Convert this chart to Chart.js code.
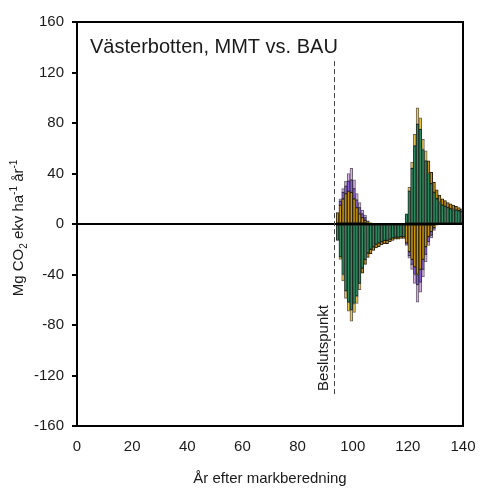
<!DOCTYPE html>
<html>
<head>
<meta charset="utf-8">
<script src="https://cdn.jsdelivr.net/npm/chart.js@4/dist/chart.umd.min.js"></script>
<style>
  html, body { margin: 0; padding: 0; background: #fff; }
  canvas { display: block; }
</style>
</head>
<body>
<canvas id="chart" width="480" height="491"></canvas>
<script>
// one bar per year, year = start of the interval
const years = [94, 95, 96, 97, 98, 99, 100, 101, 102, 103, 104, 105, 106, 107, 108, 109,
  110, 111, 112, 113, 114, 115, 116, 117, 118, 119, 120, 121, 122, 123, 124, 125, 126,
  127, 128, 129, 130, 131, 132, 133, 134, 135, 136, 137, 138, 139];

const green = [-13, -26, -40, -53, -62, -68, -63, -57, -47, -35, -28, -23, -20, -18, -16, -15,
  -14, -13, -13, -12, -11, -10.5, -10.5, -10, -10, 8, 26, 44, 62, 79, 75, 59, 50,
  40, 32, 25, 20, 17, 15, 14, 13, 12, 11.5, 11, 10.5, 10];

const goldTail = [null, null, null, null, null, null, null, null, null, -4, -4, -3.5, -3.5, -3, -3, -3,
  -2.5, -2.5, -2.5, -2, -2, -1.5, -1.5, -1.5, -1.5, null, null, null, null, null, null, null, null,
  10, 9, 8, 7, 6, 5, 4.5, 4, 4, 3.5, 3, 2.5, 2];

const goldLight = [null, -2, -5, -6, -7, -9, -7, -6, -5, null, null, null, null, null, null, null,
  null, null, null, null, null, null, null, null, null, null, 3, 5, 9, 13, 9, 8, 8,
  null, null, null, null, null, null, null, null, null, null, null, null, null];

const goldPeak = [9, 15, 20, 24, 26, 25, 20, 13, 8, 5, 3, 1.5, 1, null, null, null,
  null, null, null, null, null, null, null, null, null, -15, -22, -28, -34, -40, -36, -28, -18,
  -10, -6, -3, -1, null, null, null, null, null, null, null, null, null];

const purple = [null, 3, 5, 6, 8, 10, 8, 6, 5, 3, 2, 1, null, null, null, null,
  null, null, null, null, null, null, null, null, null, -1, -3, -4, -6, -8, -10, -8, -6,
  -4, -3, -1, null, null, null, null, null, null, null, null, null, null];

const lavender = [null, 2, 3, 4, 6, 9, 7, 5, 4, 3, 2, null, null, null, null, null,
  null, null, null, null, null, null, null, null, null, -1, -2, -4, -7, -14, -8, -6, -6,
  -3, -2, -1, null, null, null, null, null, null, null, null, null, null];

const yTicks = [-160, -120, -80, -40, 0, 40, 80, 120, 160];
const xTicks = [0, 20, 40, 60, 80, 100, 120, 140];

const decisionYear = 93.2;
const decisionFrom = 129;
const decisionTo = -137;

const FONT = "'Liberation Sans', Arial, sans-serif";
Chart.defaults.font.family = FONT;
Chart.defaults.color = "#1a1a1a";

function series(label, values, color, border) {
  return {
    label,
    data: years.map((yr, i) => ({ x: yr + 0.5, y: values[i] })),
    backgroundColor: color,
    borderColor: border,
    borderWidth: 1,
    borderSkipped: false,
    barPercentage: 1,
    categoryPercentage: 1,
  };
}

const overlay = {
  id: "overlay",
  afterDraw(chart) {
    const { ctx, chartArea: a, scales: { x, y } } = chart;
    ctx.save();

    // frame top + right
    ctx.strokeStyle = "#000";
    ctx.lineWidth = 2;
    ctx.beginPath();
    ctx.moveTo(a.left, a.top);
    ctx.lineTo(a.right, a.top);
    ctx.lineTo(a.right, a.bottom);
    ctx.stroke();

    // zero line
    const y0 = y.getPixelForValue(0);
    ctx.beginPath();
    ctx.moveTo(a.left, y0);
    ctx.lineTo(a.right, y0);
    ctx.stroke();

    // decision line
    const dx = Math.round(x.getPixelForValue(decisionYear)) + 0.5;
    ctx.strokeStyle = "#444";
    ctx.lineWidth = 1;
    ctx.setLineDash([5, 3]);
    ctx.beginPath();
    ctx.moveTo(dx, y.getPixelForValue(decisionFrom));
    ctx.lineTo(dx, y.getPixelForValue(decisionTo));
    ctx.stroke();
    ctx.setLineDash([]);

    ctx.fillStyle = "#1a1a1a";
    ctx.save();
    ctx.translate(dx - 11, y.getPixelForValue(decisionTo) - 6);
    ctx.rotate(-Math.PI / 2);
    ctx.font = `15px ${FONT}`;
    ctx.textAlign = "left";
    ctx.textBaseline = "middle";
    ctx.fillText("Beslutspunkt", 0, 0);
    ctx.restore();

    // title inside the plot
    ctx.font = `20px ${FONT}`;
    ctx.textAlign = "left";
    ctx.textBaseline = "alphabetic";
    ctx.fillText("Västerbotten, MMT vs. BAU", a.left + 13, a.top + 31);

    // x title
    ctx.font = `15px ${FONT}`;
    ctx.textAlign = "center";
    ctx.fillText("År efter markberedning", (a.left + a.right) / 2, 483);

    // y title with sub/superscripts
    const parts = [
      ["Mg CO", 15, 0],
      ["2", 10, 4],
      [" ekv ha", 15, 0],
      ["-1", 10, -6],
      [" år", 15, 0],
      ["-1", 10, -6],
    ];
    let total = 0;
    parts.forEach(([t, s]) => { ctx.font = `${s}px ${FONT}`; total += ctx.measureText(t).width; });
    ctx.save();
    ctx.translate(23, (a.top + a.bottom) / 2 + 4);
    ctx.rotate(-Math.PI / 2);
    ctx.textAlign = "left";
    let pos = -total / 2;
    parts.forEach(([t, s, dy]) => {
      ctx.font = `${s}px ${FONT}`;
      ctx.fillText(t, pos, dy);
      pos += ctx.measureText(t).width;
    });
    ctx.restore();

    ctx.restore();
  },
};

new Chart(document.getElementById("chart"), {
  type: "bar",
  data: {
    datasets: [
      series("green", green, "#2e8b60", "#1e2a22"),
      series("goldTail", goldTail, "#c9950c", "#2a2210"),
      series("goldLight", goldLight, "#eec84c", "#6a6250"),
      series("goldPeak", goldPeak, "#c9950c", "#2a2210"),
      series("purple", purple, "#8a62d6", "#3a3050"),
      series("lavender", lavender, "#d8b0e4", "#6a6070"),
    ],
  },
  plugins: [overlay],
  options: {
    responsive: false,
    animation: false,
    devicePixelRatio: 1,
    layout: { padding: { top: 22, right: 17, left: 0, bottom: 0 } },
    plugins: { legend: { display: false }, tooltip: { enabled: false } },
    scales: {
      x: {
        type: "linear",
        stacked: true,
        min: 0,
        max: 140,
        offset: false,
        afterFit: (s) => { s.height = 65; s.paddingLeft = 0; s.paddingRight = 0; },
        afterBuildTicks: (s) => { s.ticks = xTicks.map((v) => ({ value: v })); },
        grid: { display: false, drawTicks: false },
        border: { display: true, color: "#000", width: 2 },
        ticks: { padding: 12, font: { size: 15 }, maxRotation: 0 },
      },
      y: {
        stacked: true,
        min: -160,
        max: 160,
        afterFit: (s) => { s.width = 77; s.paddingTop = 0; s.paddingBottom = 0; },
        afterBuildTicks: (s) => { s.ticks = yTicks.map((v) => ({ value: v })); },
        grid: { display: true, drawOnChartArea: false, drawTicks: true, tickLength: 5, color: "#000", lineWidth: 2 },
        border: { display: true, color: "#000", width: 2 },
        ticks: { padding: 8, font: { size: 15 } },
      },
    },
  },
});
</script>
</body>
</html>
